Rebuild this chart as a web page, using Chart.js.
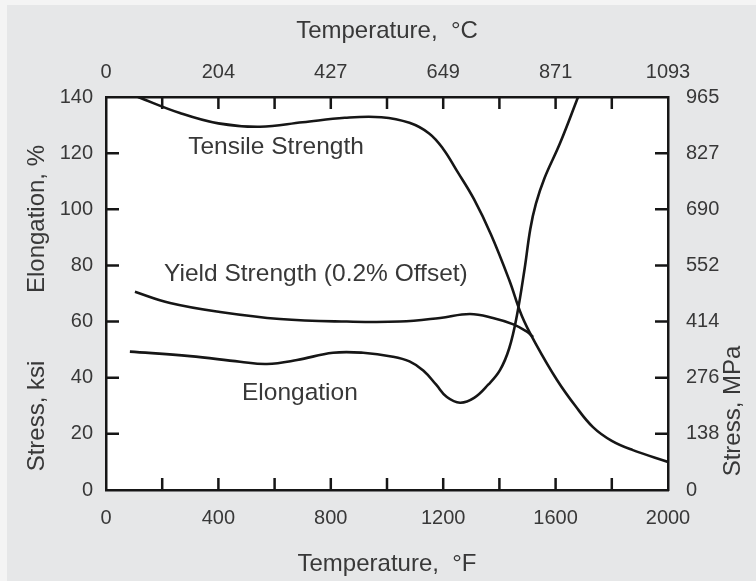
<!DOCTYPE html>
<html>
<head>
<meta charset="utf-8">
<script src="https://cdn.jsdelivr.net/npm/chart.js@4"></script>
<style>
  html, body { margin: 0; padding: 0; background: #f4f4f4; }
  canvas { display: block; }
</style>
</head>
<body>
<canvas id="grafica" width="756" height="581"></canvas>
<script>
// temperaturas en °F, esfuerzo en ksi, elongacion en %
const tensileTemp = [114, 263, 400, 548, 700, 850, 980, 1080, 1150, 1200, 1250, 1310, 1370, 1435, 1480, 1530, 1605, 1670, 1733, 1800, 1875, 2000];
const tensileKsi  = [140, 134.3, 130.6, 129.4, 131, 132.6, 132.8, 130.8, 127, 121.5, 113.5, 103.5, 91, 74.8, 62, 52, 39.2, 30, 22.4, 17.5, 14.2, 10];

const yieldTemp = [103, 228, 406, 619, 857, 1046, 1189, 1295, 1377, 1450, 1498, 1520];
const yieldKsi  = [70.6, 66.6, 63.4, 60.9, 60, 60, 61.3, 62.7, 61.3, 59, 56.4, 54.5];

const elongTemp = [85, 299, 477, 573, 680, 808, 915, 1021, 1080, 1130, 1175, 1213, 1260, 1310, 1360, 1402, 1435, 1462, 1490, 1510, 1530, 1560, 1616, 1680];
const elongPct  = [49.3, 47.7, 45.7, 44.9, 46.3, 48.9, 48.9, 47.5, 45.8, 42.5, 37.5, 33.1, 31.1, 32.8, 37.5, 42.7, 50.5, 62, 79, 93, 102, 111, 123.6, 140];

// etiquetas de los ejes
const fahrenheitLabels = ["0", "400", "800", "1200", "1600", "2000"];
const celsiusLabels = ["0", "204", "427", "649", "871", "1093"];
const ksiLabels = ["0", "20", "40", "60", "80", "100", "120", "140"];
const mpaLabels = ["0", "138", "276", "414", "552", "690", "827", "965"];

// marcas internas del marco
const marcasF = [200, 400, 600, 800, 1000, 1200, 1400, 1600, 1800];
const marcasKsi = [20, 40, 60, 80, 100, 120];

const textoColor = "#383838";
const fuenteTexto = "'Liberation Sans', Arial, sans-serif";
const fuenteTicks = { family: fuenteTexto, size: 20 };

function puntos(xs, ys) {
  return xs.map((x, i) => ({ x: x, y: ys[i] }));
}

function serie(label, data) {
  return {
    label: label,
    data: data,
    borderColor: "#161616",
    borderWidth: 2.6,
    pointRadius: 0,
    fill: false,
    tension: 0.4,
  };
}

const fondo = {
  id: "fondo",
  beforeDraw(chart) {
    const { ctx, chartArea: a } = chart;
    ctx.save();
    ctx.fillStyle = "#e6e7e8";
    ctx.fillRect(7, 5, chart.width - 7, chart.height - 5);
    ctx.fillStyle = "#ffffff";
    ctx.fillRect(a.left, a.top, a.right - a.left, a.bottom - a.top);
    ctx.restore();
  },
};

const marcasInternas = {
  id: "marcasInternas",
  afterDatasetsDraw(chart) {
    const { ctx, chartArea: a, scales } = chart;
    ctx.save();
    ctx.strokeStyle = "#161616";
    ctx.lineWidth = 2.5;
    ctx.beginPath();
    marcasF.forEach((v) => {
      const px = scales.x.getPixelForValue(v);
      ctx.moveTo(px, a.bottom); ctx.lineTo(px, a.bottom - 12);
      ctx.moveTo(px, a.top); ctx.lineTo(px, a.top + 12);
    });
    marcasKsi.forEach((v) => {
      const py = scales.y.getPixelForValue(v);
      ctx.moveTo(a.left, py); ctx.lineTo(a.left + 13, py);
      ctx.moveTo(a.right, py); ctx.lineTo(a.right - 13, py);
    });
    ctx.stroke();
    ctx.restore();
  },
};

// textos dentro del grafico y titulos verticales
const notas = [
  { texto: "Tensile Strength", x: 605, y: 122.2 },
  { texto: "Yield Strength (0.2% Offset)", x: 747, y: 77 },
  { texto: "Elongation", x: 690, y: 34.6 },
];

const textos = {
  id: "textos",
  afterDraw(chart) {
    const { ctx, scales } = chart;
    ctx.save();
    ctx.fillStyle = textoColor;
    ctx.textAlign = "center";
    ctx.textBaseline = "middle";
    ctx.font = "24.5px " + fuenteTexto;
    notas.forEach((n) => {
      ctx.fillText(n.texto, scales.x.getPixelForValue(n.x), scales.y.getPixelForValue(n.y));
    });
    const vertical = (t, x, y) => {
      ctx.save();
      ctx.translate(x, y);
      ctx.rotate(-Math.PI / 2);
      ctx.fillText(t, 0, 0);
      ctx.restore();
    };
    ctx.font = "24px " + fuenteTexto;
    vertical("Elongation, %", 37, 219);
    vertical("Stress, ksi", 37, 416);
    vertical("Stress, MPa", 733, 411);
    ctx.restore();
  },
};

new Chart(document.getElementById("grafica").getContext("2d"), {
  type: "line",
  data: {
    datasets: [
      serie("Tensile Strength", puntos(tensileTemp, tensileKsi)),
      serie("Yield Strength (0.2% Offset)", puntos(yieldTemp, yieldKsi)),
      serie("Elongation", puntos(elongTemp, elongPct)),
    ],
  },
  options: {
    responsive: false,
    animation: false,
    devicePixelRatio: 1,
    layout: { padding: 0 },
    plugins: { legend: { display: false }, tooltip: { enabled: false } },
    scales: {
      x: {
        type: "linear",
        position: "bottom",
        min: 0,
        max: 2000,
        grid: { display: false },
        border: { display: true, color: "#161616", width: 2.5 },
        ticks: {
          stepSize: 400, padding: 8, color: textoColor, font: fuenteTicks, maxRotation: 0,
          callback: (v) => fahrenheitLabels[v / 400],
        },
        title: { display: true, text: "Temperature,  °F", color: textoColor, font: { family: fuenteTexto, size: 24 }, padding: { bottom: 2 } },
        afterFit: (s) => { s.height = 91; },
      },
      xC: {
        type: "linear",
        position: "top",
        min: 0,
        max: 2000,
        grid: { display: false },
        border: { display: true, color: "#161616", width: 2.5 },
        ticks: {
          stepSize: 400, padding: 5, color: textoColor, font: fuenteTicks, maxRotation: 0,
          callback: (v) => celsiusLabels[v / 400],
        },
        title: { display: true, text: "Temperature,  °C", color: textoColor, font: { family: fuenteTexto, size: 24 }, padding: { top: 17 } },
        afterFit: (s) => { s.height = 97; },
      },
      y: {
        position: "left",
        min: 0,
        max: 140,
        grid: { display: false },
        border: { display: true, color: "#161616", width: 2.5 },
        ticks: {
          stepSize: 20, padding: 5, color: textoColor, font: fuenteTicks,
          callback: (v) => ksiLabels[v / 20],
        },
        afterFit: (s) => { s.width = 106; },
      },
      yMPa: {
        position: "right",
        min: 0,
        max: 140,
        grid: { display: false },
        border: { display: true, color: "#161616", width: 2.5 },
        ticks: {
          stepSize: 20, padding: 10, color: textoColor, font: fuenteTicks,
          callback: (v) => mpaLabels[v / 20],
        },
        afterFit: (s) => { s.width = 88; },
      },
    },
  },
  plugins: [fondo, marcasInternas, textos],
});
</script>
</body>
</html>
